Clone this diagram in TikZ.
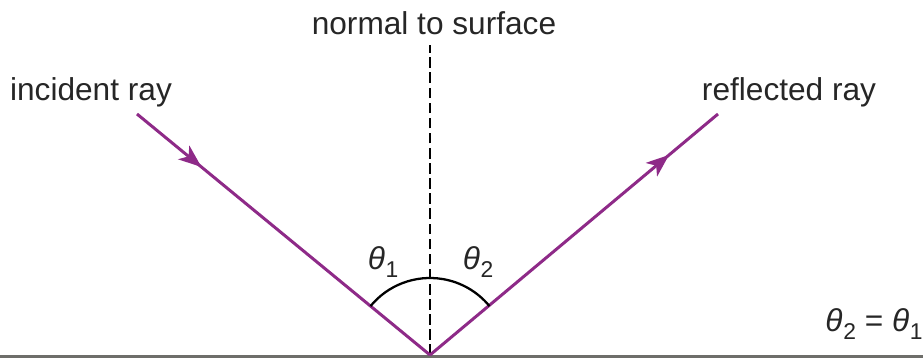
\documentclass[tikz,border=0pt]{standalone}
\usepackage{fontspec}
\setmainfont{Liberation Sans}
\usepackage{xcolor}
\usepackage{tikz}
\usetikzlibrary{arrows.meta,decorations.markings,calc}
\definecolor{viola}{HTML}{8E2A88}
\definecolor{grigio}{HTML}{6E6E6A}
\newcommand{\ang}[1]{\textit{θ}\kern0.02em\raisebox{-0.45ex}{\fontsize{13}{13}\selectfont #1}}
\tikzset{
  raggio/.style={viola, line width=1.7pt},
  freccia/.style={postaction={decorate, decoration={markings,
      mark=at position #1 with {\arrow{Stealth[length=13pt,width=10pt,inset=3.5pt]}}}}},
  etichetta/.style={font=\fontsize{18}{21}\selectfont, text=black!85, inner sep=1pt}
}
\begin{document}
\begin{tikzpicture}
  \useasboundingbox (0,0) rectangle (18.46,7.16);
  % Points
  \coordinate (O) at (8.6,0.06);
  \coordinate (src) at (2.74,4.88);
  \coordinate (dst) at (14.36,4.88);
  \coordinate (ntop) at (8.6,6.26);
  \coordinate (sl) at (0,0.03);
  \coordinate (sr) at (18.46,0.03);
  % Surface
  \draw[grigio, line width=1.6pt] (sl) -- (sr);
  % Normal
  \draw[black, line width=1.3pt, dash pattern=on 6pt off 2.6pt] (O) -- (ntop);
  \node[etichetta, anchor=south] (normale) at (8.68,6.42) {normal to surface};
  % Rays
  \draw[raggio, freccia=0.22] (src) -- (O);
  \draw[raggio, freccia=0.83] (O) -- (dst);
  \node[etichetta] (incidente) at (1.82,5.32) {incident ray};
  \node[etichetta] (riflesso) at (15.78,5.32) {reflected ray};
  % Angles
  \draw[black, line width=1.3pt] ($(O)+(140.6:1.54)$) arc (140.6:39.4:1.54);
  \node[etichetta] (t1) at (7.66,1.92) {\ang{1}};
  \node[etichetta] (t2) at (9.56,1.92) {\ang{2}};
  \node[etichetta] (uguale) at (17.48,0.68) {\ang{2} = \ang{1}};
\end{tikzpicture}
\end{document}
